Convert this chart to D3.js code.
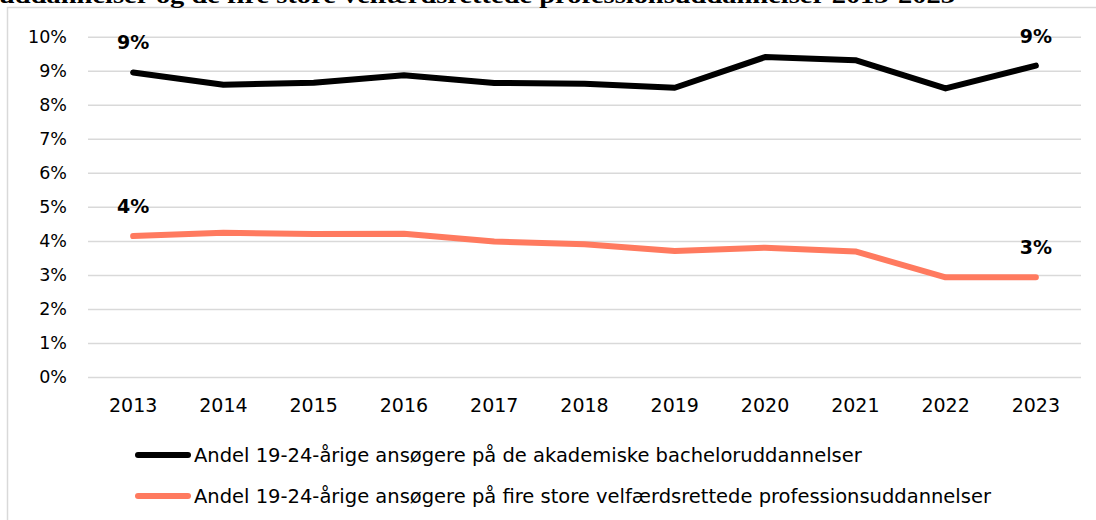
<!DOCTYPE html>
<html><head><meta charset="utf-8">
<script src="https://cdn.jsdelivr.net/npm/d3@7"></script>
<style>body{margin:0;background:#fff;overflow:hidden} svg{display:block}</style>
</head><body><svg id="c" width="1096" height="520"></svg>
<script>
const years = ["2013","2014","2015","2016","2017","2018","2019","2020","2021","2022","2023"];
const akademisk = [8.95,8.59,8.65,8.87,8.64,8.62,8.50,9.40,9.31,8.48,9.15];
const velfaerd  = [4.14,4.24,4.20,4.21,3.98,3.90,3.70,3.80,3.69,2.93,2.93];
const yTicks = [0,1,2,3,4,5,6,7,8,9,10];
const seriesNames = [
  "Andel 19-24-årige ansøgere på de akademiske bacheloruddannelser",
  "Andel 19-24-årige ansøgere på fire store velfærdsrettede professionsuddannelser"
];
const seriesColors = ["#000000", "#FF7A5F"];
const titleText = "uddannelser og de fire store velfærdsrettede professionsuddannelser 2013-2023";

(function(){
const svg = d3.select("#c");
const pLeft = 88, pRight = 1081, pTop = 36.7, pBottom = 377;
const sans = "DejaVu Sans";

// frame
svg.append("rect").attr("x",7.5).attr("y",7.5).attr("width",1200).attr("height",600)
  .attr("fill","none").attr("stroke","#d9d9d9").attr("stroke-width",1.5);

// cut-off title (continuation line of a title above the picture)
svg.append("text").attr("x",-1).attr("y",2.5)
  .attr("font-family","Liberation Serif").attr("font-weight","bold").attr("font-size",23)
  .attr("textLength",956).attr("lengthAdjust","spacingAndGlyphs")
  .attr("fill","#000").text(titleText);

const x = d3.scaleBand().domain(years).range([pLeft,pRight]);
const y = d3.scaleLinear().domain([0,10]).range([pBottom,pTop]);

const yAxis = svg.append("g").attr("transform",`translate(${pLeft},0)`)
  .call(d3.axisLeft(y).tickValues(yTicks).tickFormat(d=>d+"%").tickSize(-(pRight-pLeft)).tickPadding(21));
yAxis.select(".domain").remove();
yAxis.selectAll(".tick line").attr("stroke","#d9d9d9").attr("stroke-width",1.5);
yAxis.selectAll(".tick text").attr("font-family",sans).attr("font-size",17.5).attr("fill","#000");

const xAxis = svg.append("g").attr("transform",`translate(0,${pBottom})`)
  .call(d3.axisBottom(x).tickSize(0).tickPadding(22));
xAxis.select(".domain").remove();
xAxis.selectAll(".tick text").attr("font-family",sans).attr("font-size",19).attr("fill","#000");

const series = [akademisk, velfaerd];
const line = d3.line().x((d,i)=>x(years[i])+x.bandwidth()/2).y(d=>y(d));
series.forEach((s,k)=>{
  svg.append("path").datum(s).attr("d",line).attr("fill","none")
    .attr("stroke",seriesColors[k]).attr("stroke-width",6)
    .attr("stroke-linecap","round").attr("stroke-linejoin","round");
  [0, s.length-1].forEach(i=>{
    svg.append("text").attr("x",x(years[i])+x.bandwidth()/2).attr("y",y(s[i])-30)
      .attr("text-anchor","middle").attr("dominant-baseline","central")
      .attr("font-family",sans).attr("font-weight","bold").attr("font-size",19)
      .attr("fill","#000").text(d3.format(".0f")(s[i])+"%");
  });
});

// legend
const legY = [455, 496];
seriesNames.forEach((n,k)=>{
  svg.append("line").attr("x1",138).attr("x2",188).attr("y1",legY[k]).attr("y2",legY[k])
    .attr("stroke",seriesColors[k]).attr("stroke-width",6).attr("stroke-linecap","round");
  svg.append("text").attr("x",194).attr("y",legY[k]).attr("dominant-baseline","central")
    .attr("font-family",sans).attr("font-size",19.5).attr("fill","#000").text(n);
});
})();
</script></body></html>
